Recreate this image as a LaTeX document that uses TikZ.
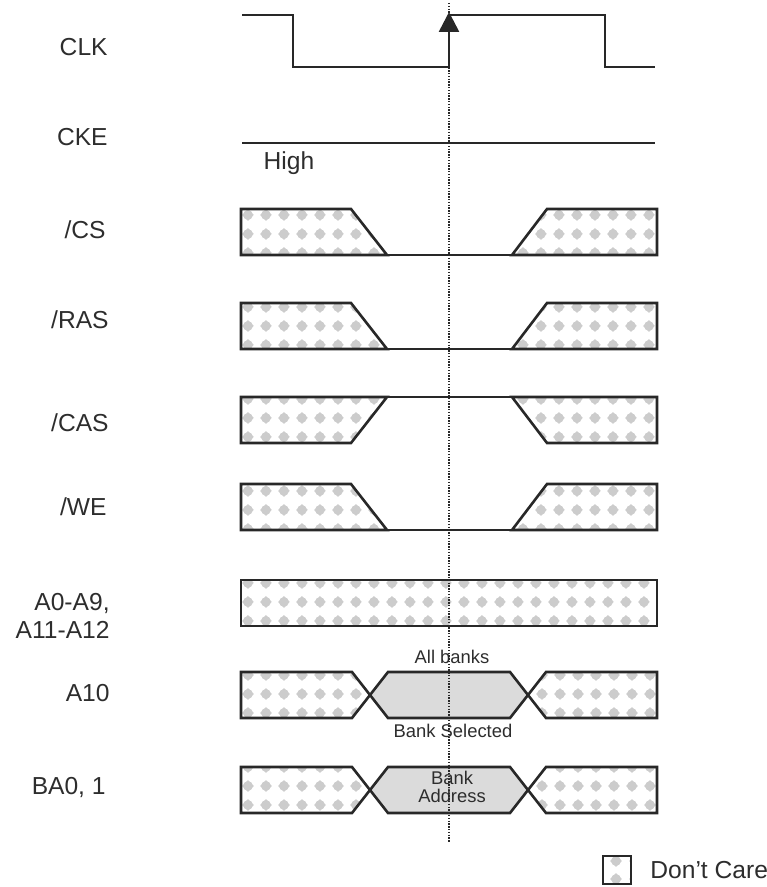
\documentclass[tikz,border=0pt]{standalone}
\usepackage{fontspec}
\setmainfont{Liberation Sans}
\usepackage{tikz}
\usetikzlibrary{arrows.meta,patterns.meta}
\definecolor{wireGray}{RGB}{40,40,40}
\definecolor{textGray}{RGB}{45,45,45}
\tikzdeclarepattern{
    name=dontcare,
    type=uncolored,
    bounding box={(0pt,0pt) and (9.2pt,9.2pt)},
    tile size={(9.2pt,9.2pt)},
    code={
        \fill (4.6pt,1.6pt) -- (7.6pt,4.6pt) -- (4.6pt,7.6pt) -- (1.6pt,4.6pt) -- cycle;
        \fill (4.6pt,4.6pt) circle (2.5pt);
    }
}
\tikzset{
    wire/.style={draw=wireGray, line width=1.3pt, line join=miter},
    thinwire/.style={draw=wireGray, line width=0.9pt},
    dcbox/.style={wire, pattern=dontcare, pattern color=black!20},
    validbox/.style={wire, fill=black!14},
    siglabel/.style={anchor=east, text=textGray, font=\fontsize{12.3}{14}\selectfont, align=right, inner sep=0pt},
    smalltext/.style={text=textGray, font=\fontsize{9.2}{8.6}\selectfont, align=center, inner sep=0pt}
}

\begin{document}
\begin{tikzpicture}[x=0.5pt, y=-0.5pt]
    \useasboundingbox (0,0) rectangle (766,887);

    % --- NHÃN TÍN HIỆU ---
    \node[siglabel] (lclk)  at (108,47)  {CLK};
    \node[siglabel] (lcke)  at (108,137) {CKE};
    \node[siglabel] (lcs)   at (106,230) {/CS};
    \node[siglabel] (lras)  at (109,320) {/RAS};
    \node[siglabel] (lcas)  at (109,423) {/CAS};
    \node[siglabel] (lwe)   at (107,507) {/WE};
    \node[siglabel] (laddr) at (110,616) {A0-A9,\\A11-A12};
    \node[siglabel] (la10)  at (110,693) {A10};
    \node[siglabel] (lba)   at (106,787) {BA0, 1};

    % --- CLK ---
    \draw[wire] (242,15) -- (293,15) -- (293,67) -- (449,67);
    \draw[wire, -{Triangle[length=10pt, width=10pt]}] (449,67) -- (449,12);
    \draw[wire] (449,15) -- (605,15) -- (605,67) -- (655,67);

    % --- CKE ---
    \draw[thinwire] (242,143) -- (655,143);
    \node[siglabel, anchor=center] (lhigh) at (289,163) {High};

    % --- /CS, /RAS, /WE (xuống thấp) ---
    \foreach \t in {209,303,484} {
        \pgfmathsetmacro{\b}{\t+46}
        \draw[dcbox] (241,\t) -- (351,\t) -- (387,\b) -- (241,\b) -- cycle;
        \draw[dcbox] (512,\b) -- (547,\t) -- (657,\t) -- (657,\b) -- cycle;
        \draw[thinwire] (387,\b) -- (512,\b);
    }

    % --- /CAS (giữ cao) ---
    \draw[dcbox] (241,397) -- (387,397) -- (351,443) -- (241,443) -- cycle;
    \draw[dcbox] (512,397) -- (547,443) -- (657,443) -- (657,397) -- cycle;
    \draw[thinwire] (387,397) -- (512,397);

    % --- A0-A9, A11-A12 ---
    \draw[dcbox] (241,580) rectangle (657,626);

    % --- A10, BA0/1 ---
    \foreach \t in {672,767} {
        \pgfmathsetmacro{\m}{\t+23}
        \pgfmathsetmacro{\b}{\t+46}
        \draw[dcbox] (241,\t) -- (352,\t) -- (370,\m) -- (352,\b) -- (241,\b) -- cycle;
        \draw[validbox] (370,\m) -- (388,\t) -- (510,\t) -- (528,\m) -- (510,\b) -- (388,\b) -- cycle;
        \draw[dcbox] (528,\m) -- (546,\t) -- (657,\t) -- (657,\b) -- (546,\b) -- cycle;
    }
    \node[smalltext] (tall)  at (452,657) {All banks};
    \node[smalltext] (tsel)  at (453,731) {Bank Selected};
    \node[smalltext] (taddr) at (452,787) {Bank\\Address};

    % --- ĐƯỜNG CHẤM THAM CHIẾU ---
    \draw[wireGray, line width=0.7pt, dash pattern=on 0.7pt off 0.7pt] (449,3) -- (449,842);

    % --- CHÚ THÍCH ---
    \draw[dcbox, line width=1pt] (603,856) rectangle (631,884);
    \node[siglabel, anchor=west] (lcare) at (650,870) {Don't Care};
\end{tikzpicture}
\end{document}
